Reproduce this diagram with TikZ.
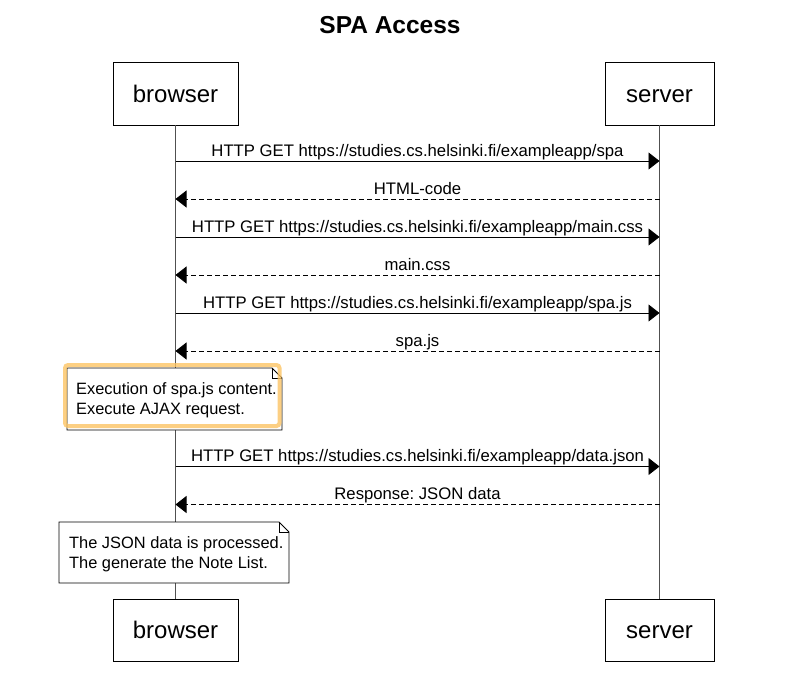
\documentclass[tikz,border=0pt]{standalone}
\usepackage{fontspec}
\setmainfont{Liberation Sans}
\frenchspacing
\usetikzlibrary{arrows.meta,positioning}
\definecolor{noteorange}{RGB}{252,196,100}
\definecolor{lifegray}{RGB}{80,80,80}
\newcommand{\msgfont}{\fontsize{16.7}{20}\selectfont}
\newcommand{\notefont}{\fontsize{16.4}{20}\selectfont}
\newcommand{\actorfont}{\fontsize{24}{28}\selectfont}

\begin{document}
\begin{tikzpicture}[x=1pt,y=-1pt,
    actor/.style={draw,line width=0.9pt,fill=white,minimum height=63pt,font=\actorfont,
        inner sep=0pt,text height=17.5pt,text depth=0pt},
    lifeline/.style={draw=lifegray,line width=0.9pt},
    msg/.style={draw,line width=0.9pt,-{Triangle[length=11pt,width=17pt]}},
    reply/.style={msg,dash pattern=on 5pt off 3pt},
    msglabel/.style={midway,anchor=base,yshift=5pt,inner sep=0pt,font=\msgfont},
    notebg/.style={draw,line width=0.9pt,fill=white},
    notetext/.style={anchor=base west,inner sep=0pt,align=left,font=\notefont}
]
\useasboundingbox (0,0) rectangle (807,675);

\node[font=\bfseries\fontsize{24.5}{29}\selectfont,anchor=base] (title) at (390,33) {SPA Access};

% participants
\node[actor,minimum width=125pt] (browser) at (175.5,93.5) {browser};
\node[actor,minimum width=109pt] (server) at (659.5,93.5) {server};
\node[actor,minimum width=125pt,minimum height=62pt] (browserb) at (175.5,630) {browser};
\node[actor,minimum width=109pt,minimum height=62pt] (serverb) at (659.5,630) {server};

\draw[lifeline] (browser) -- (browserb);
\draw[lifeline] (server) -- (serverb);

% messages
\foreach \y/\from/\to/\st/\txt in {
    161/browser/server/msg/{HTTP GET https://studies.cs.helsinki.fi/exampleapp/spa},
    199/server/browser/reply/{HTML-code},
    237/browser/server/msg/{HTTP GET https://studies.cs.helsinki.fi/exampleapp/main.css},
    275/server/browser/reply/{main.css},
    313/browser/server/msg/{HTTP GET https://studies.cs.helsinki.fi/exampleapp/spa.js},
    351/server/browser/reply/{spa.js},
    466.5/browser/server/msg/{HTTP GET https://studies.cs.helsinki.fi/exampleapp/data.json},
    504.5/server/browser/reply/{Response: JSON data}} {
    \draw[\st] (\from |- 0,\y) -- node[msglabel] {\txt} (\to |- 0,\y);
}

% notes
\draw[notebg] (67,368) -- (272,368) -- (282,378) -- (282,430) -- (67,430) -- cycle;
\draw[line width=0.9pt] (272,368) -- (272,378) -- (282,378);
\node[notetext] (note1) at (76,414) {Execution of spa.js content.\\Execute AJAX request.};
\draw[noteorange,line width=4pt,rounded corners=3pt,opacity=0.8] (65,365) rectangle (279.5,426);

\draw[notebg] (59,522) -- (279,522) -- (289,532) -- (289,583) -- (59,583) -- cycle;
\draw[line width=0.9pt] (279,522) -- (279,532) -- (289,532);
\node[notetext] (note2) at (69,568) {The JSON data is processed.\\The generate the Note List.};
\end{tikzpicture}
\end{document}
